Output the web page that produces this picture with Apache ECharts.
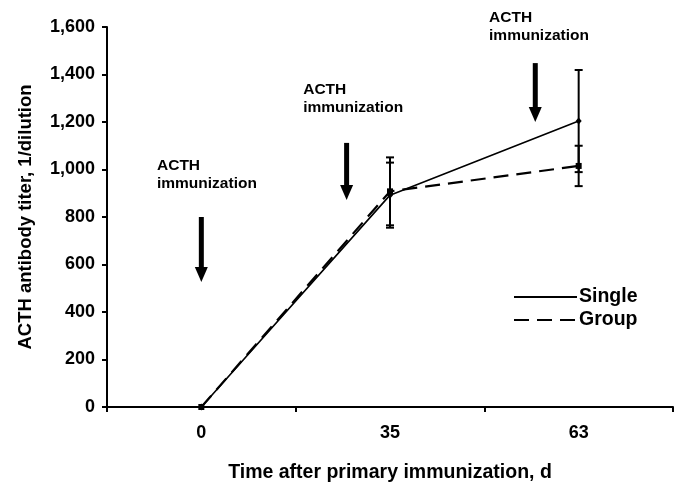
<!DOCTYPE html>
<html>
<head>
<meta charset="utf-8">
<script src="https://cdn.jsdelivr.net/npm/echarts@6/dist/echarts.min.js"></script>
<style>html,body{margin:0;padding:0;background:#fff}#c{width:678px;height:485px}</style>
</head>
<body>
<div id="c"></div>
<script>
const categories = ['0', '35', '63'];
const singleMean = [0, 892, 1204];
const singleErr = [0, 137, 215];
const groupMean = [0, 908, 1015];
const groupErr = [0, 143, 85];
const yTicks = [0, 200, 400, 600, 800, 1000, 1200, 1400, 1600];
// annotation arrows (x in category-index units, y in titer units)
const arrowX = [0, 0.77, 1.77];
const arrowTop = [800, 1112, 1448];
const arrowBottom = [526, 872, 1200];
const labelX = [-0.235, 0.54, 1.525];
const labelY = [1015, 1335, 1638];
const labelLines = [['ACTH', 'immunization'], ['ACTH', 'immunization'], ['ACTH', 'immunization']];

const FONT = 'Liberation Sans, Arial, sans-serif';
const chart = echarts.init(document.getElementById('c'));

function errData(mean, err) {
  return mean.map((m, i) => [i, m, m - err[i], m + err[i]]);
}
function errRender(shape) {
  return function (params, api) {
    const x = api.value(0);
    const c = api.coord([x, api.value(1)]);
    const lo = api.coord([x, api.value(2)]);
    const hi = api.coord([x, api.value(3)]);
    const children = [];
    const st = { stroke: '#000', lineWidth: 2 };
    if (api.value(3) > api.value(2)) {
      children.push({ type: 'line', shape: { x1: c[0], y1: lo[1], x2: c[0], y2: hi[1] }, style: st });
      children.push({ type: 'line', shape: { x1: c[0] - 4, y1: lo[1], x2: c[0] + 4, y2: lo[1] }, style: st });
      children.push({ type: 'line', shape: { x1: c[0] - 4, y1: hi[1], x2: c[0] + 4, y2: hi[1] }, style: st });
    }
    if (shape === 'diamond') {
      children.push({ type: 'polygon', shape: { points: [[c[0], c[1] - 3.5], [c[0] + 3, c[1]], [c[0], c[1] + 3.5], [c[0] - 3, c[1]]] }, style: { fill: '#000' } });
    } else {
      children.push({ type: 'rect', shape: { x: c[0] - 3, y: c[1] - 3, width: 6, height: 6 }, style: { fill: '#000' } });
    }
    return { type: 'group', children };
  };
}

const arrowData = arrowX.map((x, i) => [x, arrowTop[i], arrowBottom[i], labelX[i], labelY[i], i]);

chart.setOption({
  animation: false,
  backgroundColor: '#fff',
  grid: { left: 107, right: 5, top: 27, bottom: 78, containLabel: false, outerBoundsMode: 'none' },
  legend: {
    data: ['Single', 'Group'],
    orient: 'vertical',
    left: 513,
    top: 287,
    padding: 0,
    itemWidth: 63,
    itemHeight: 12,
    itemGap: 3,
    itemStyle: { opacity: 0 },
    textStyle: { fontFamily: FONT, fontWeight: 'bold', fontSize: 19.5, color: '#000', padding: [0, 0, 0, -3] },
    selectedMode: false
  },
  xAxis: [{
    type: 'category',
    data: categories,
    boundaryGap: true,
    axisLine: { lineStyle: { color: '#000', width: 2 } },
    axisTick: { show: true, length: 5, interval: 0, lineStyle: { color: '#000', width: 2 } },
    axisLabel: { color: '#000', fontFamily: FONT, fontWeight: 'bold', fontSize: 18, margin: 17 },
    splitLine: { show: false },
    name: 'Time after primary immunization, d',
    nameLocation: 'middle',
    nameGap: 56,
    nameTextStyle: { color: '#000', fontFamily: FONT, fontWeight: 'bold', fontSize: 19.5 }
  }, {
    type: 'value',
    min: -0.5,
    max: 2.5,
    show: false
  }],
  yAxis: {
    type: 'value',
    min: 0,
    max: 1600,
    interval: 200,
    axisLine: { show: true, onZero: false, lineStyle: { color: '#000', width: 2 } },
    axisTick: { show: true, length: 5, lineStyle: { color: '#000', width: 2 } },
    axisLabel: {
      color: '#000', fontFamily: FONT, fontWeight: 'bold', fontSize: 18, margin: 12,
      formatter: v => yTicks.includes(v) ? v.toLocaleString('en-US') : ''
    },
    splitLine: { show: false },
    name: 'ACTH antibody titer, 1/dilution',
    nameLocation: 'middle',
    nameGap: 72,
    nameTextStyle: { color: '#000', fontFamily: FONT, fontWeight: 'bold', fontSize: 18.5 }
  },
  series: [
    {
      name: 'Single', type: 'line', data: singleMean, symbol: 'none',
      lineStyle: { color: '#000', width: 1.6, type: 'solid' },
      itemStyle: { color: '#000' }, z: 3
    },
    {
      name: 'Group', type: 'line', data: groupMean, symbol: 'none',
      lineStyle: { color: '#000', width: 2.2, type: [15, 8] },
      itemStyle: { color: '#000' }, z: 3
    },
    {
      type: 'custom', name: 'singleErr', data: errData(singleMean, singleErr),
      renderItem: errRender('diamond'), z: 4, silent: true
    },
    {
      type: 'custom', name: 'groupErr', data: errData(groupMean, groupErr),
      renderItem: errRender('square'), z: 4, silent: true
    },
    {
      type: 'custom', name: 'arrows', xAxisIndex: 1, data: arrowData, clip: false, silent: true,
      renderItem: function (params, api) {
        const x = api.value(0);
        const top = api.coord([x, api.value(1)]);
        const bot = api.coord([x, api.value(2)]);
        const lp = api.coord([api.value(3), api.value(4)]);
        const idx = api.value(5);
        const headH = 15, headW = 6.5, shaftW = 5;
        const lines = labelLines[idx];
        return {
          type: 'group',
          children: [
            { type: 'rect', shape: { x: top[0] - shaftW / 2, y: top[1], width: shaftW, height: bot[1] - top[1] - headH + 1 }, style: { fill: '#000' } },
            { type: 'polygon', shape: { points: [[top[0] - headW, bot[1] - headH], [top[0] + headW, bot[1] - headH], [top[0], bot[1]]] }, style: { fill: '#000' } },
            { type: 'text', x: lp[0], y: lp[1], style: { text: lines[0], fill: '#000', font: 'bold 15.5px ' + FONT, textAlign: 'left', textVerticalAlign: 'middle' } },
            { type: 'text', x: lp[0], y: lp[1] + 18, style: { text: lines[1], fill: '#000', font: 'bold 15.5px ' + FONT, textAlign: 'left', textVerticalAlign: 'middle' } }
          ]
        };
      }
    }
  ]
});
</script>
</body>
</html>
